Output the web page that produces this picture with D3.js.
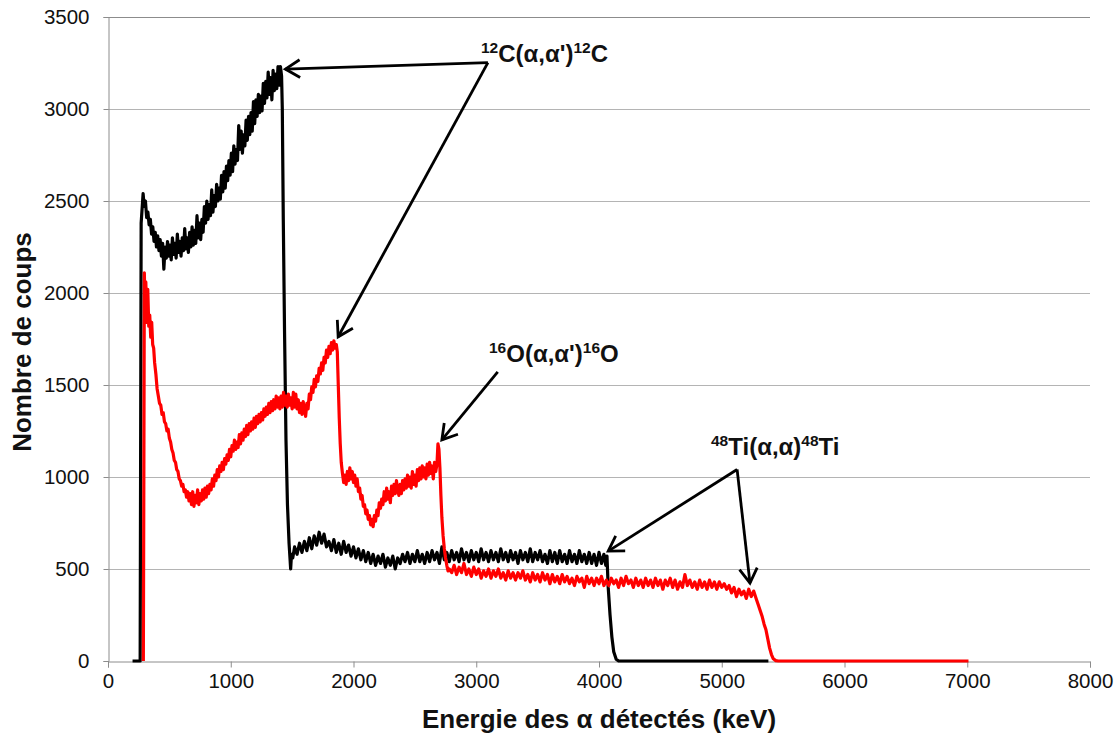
<!DOCTYPE html>
<html><head><meta charset="utf-8">
<script src="https://cdn.jsdelivr.net/npm/d3@7"></script>
<style>body{margin:0;background:#fff}svg{display:block}text{font-family:"Liberation Sans",Arial,sans-serif}</style>
</head><body>
<svg id="c" width="1120" height="735"></svg>
<script>
// ---- data (energy keV, counts) ----
const xTicks = [0,1000,2000,3000,4000,5000,6000,7000,8000];
const yTicks = [0,500,1000,1500,2000,2500,3000,3500];

const blackSeries = [
[200,0],[262,0],[266,1200],[270,2380],[278,2460],[286,2540],[295,2470],[305,2500],[315,2410],[325,2440],
[335,2370],[345,2400],[355,2320],[365,2360],[375,2280],[385,2330],[395,2250],[405,2310],[415,2230],[425,2290],
[435,2200],[445,2270],[455,2130],[465,2250],[475,2190],[485,2280],[495,2200],[505,2260],[515,2180],[525,2300],
[535,2210],[545,2270],[555,2190],[565,2320],[575,2220],[585,2280],[595,2200],[605,2300],[615,2230],[625,2350],
[635,2240],[645,2300],[655,2220],[665,2330],[675,2250],[685,2360],[695,2260],[705,2340],[715,2270],[725,2420],
[735,2300],[745,2380],[755,2290],[765,2400],[775,2330],[785,2470],[795,2380],[805,2500],[815,2400],[825,2480],
[835,2420],[845,2560],[855,2440],[865,2530],[875,2470],[885,2590],[895,2500],[905,2570],[915,2510],[925,2640],
[935,2550],[945,2660],[955,2570],[965,2690],[975,2610],[985,2720],[995,2640],[1005,2760],[1015,2660],[1025,2800],
[1035,2700],[1045,2780],[1055,2720],[1065,2910],[1075,2780],[1085,2880],[1095,2760],[1105,2860],[1115,2800],[1125,2940],
[1135,2830],[1145,2960],[1155,2860],[1165,2980],[1175,2880],[1185,3040],[1195,2920],[1205,3050],[1215,2960],[1225,3080],
[1235,2980],[1245,3070],[1255,2990],[1265,3140],[1275,3030],[1285,3150],[1295,3060],[1305,3200],[1315,3080],[1325,3170],
[1335,3050],[1345,3210],[1355,3100],[1365,3190],[1375,3110],[1385,3230],[1395,3130],[1405,3230],[1414,3180],[1420,3000],
[1428,2400],[1438,1800],[1450,1200],[1462,850],[1475,640],[1488,500],[1495,580],
[1505,560],[1520,620],[1540,580],[1560,640],[1580,590],[1600,650],[1620,600],[1640,670],[1660,610],[1680,680],
[1700,630],[1720,700],[1740,640],[1760,690],[1780,620],[1800,650],[1820,600],[1840,660],[1860,590],[1880,640],
[1900,580],[1920,650],[1940,590],[1960,630],[1980,570],[2000,620],[2020,560],[2040,610],[2060,550],[2080,600],
[2100,540],[2120,590],[2140,530],[2160,580],[2180,520],[2200,570],[2220,530],[2240,580],[2260,510],[2280,560],
[2300,520],[2320,570],[2340,500],[2360,560],[2380,530],[2400,580],[2420,540],[2440,590],[2460,530],[2480,580],
[2500,540],[2520,600],[2540,540],[2560,580],[2580,530],[2600,590],[2620,540],[2640,600],[2660,550],[2680,590],
[2700,530],[2720,620],[2740,550],[2760,590],[2780,540],[2800,600],[2820,550],[2840,590],[2860,540],[2880,610],
[2900,550],[2920,590],[2940,540],[2960,600],[2980,550],[3000,590],[3020,540],[3040,610],[3060,550],[3080,590],
[3100,540],[3120,600],[3140,550],[3160,590],[3180,540],[3200,610],[3220,550],[3240,590],[3260,540],[3280,600],
[3300,550],[3320,590],[3340,530],[3360,600],[3380,550],[3400,590],[3420,540],[3440,610],[3460,540],[3480,590],
[3500,550],[3520,600],[3540,540],[3560,580],[3580,530],[3600,600],[3620,540],[3640,590],[3660,530],[3680,600],
[3700,540],[3720,580],[3740,530],[3760,600],[3780,540],[3800,580],[3820,530],[3840,600],[3860,540],[3880,580],
[3900,530],[3920,590],[3940,530],[3960,580],[3980,520],[4000,590],[4020,530],[4040,580],[4055,520],[4065,570],
[4075,400],[4090,250],[4105,130],[4120,50],[4140,10],[4160,0],[5380,0]
];

const redSeries = [
[288,0],[292,1000],[296,2110],[302,1900],[308,2060],[316,1840],[324,2020],[332,1820],[340,1880],[348,1760],
[356,1840],[364,1720],[372,1700],[380,1620],[390,1560],[400,1480],[410,1440],[420,1400],[430,1390],[440,1340],
[450,1350],[460,1300],[470,1290],[480,1250],[490,1260],[500,1210],[510,1190],[520,1150],[530,1130],[540,1090],
[550,1080],[560,1040],[570,1030],[580,990],[590,980],[600,950],[610,960],[620,920],[630,930],[640,890],
[650,920],[660,870],[670,910],[680,850],[690,920],[700,840],[710,900],[720,860],[730,930],[740,850],
[750,910],[760,870],[770,930],[780,880],[790,940],[800,890],[810,950],[820,910],[830,960],[840,930],
[850,990],[860,950],[870,1010],[880,980],[890,1040],[900,1000],[910,1060],[920,1030],[930,1080],[940,1040],
[950,1100],[960,1070],[970,1120],[980,1090],[990,1150],[1000,1110],[1010,1170],[1020,1140],[1030,1200],[1040,1150],
[1050,1190],[1060,1160],[1070,1230],[1080,1180],[1090,1240],[1100,1200],[1110,1260],[1120,1220],[1130,1280],[1140,1230],
[1150,1290],[1160,1250],[1170,1300],[1180,1260],[1190,1320],[1200,1270],[1210,1330],[1220,1290],[1230,1340],[1240,1300],
[1250,1350],[1260,1310],[1270,1370],[1280,1330],[1290,1380],[1300,1340],[1310,1400],[1320,1350],[1330,1410],[1340,1360],
[1350,1420],[1360,1370],[1370,1440],[1380,1380],[1390,1430],[1400,1370],[1410,1440],[1420,1380],[1430,1460],[1440,1390],
[1450,1440],[1460,1380],[1470,1450],[1480,1390],[1490,1430],[1500,1370],[1510,1460],[1520,1380],[1530,1450],[1540,1370],
[1550,1420],[1560,1350],[1570,1400],[1580,1340],[1590,1410],[1600,1360],[1610,1330],[1620,1400],[1630,1370],[1640,1450],
[1650,1420],[1660,1490],[1670,1460],[1680,1530],[1690,1490],[1700,1550],[1710,1520],[1720,1590],[1730,1560],[1740,1620],
[1750,1580],[1760,1650],[1770,1620],[1780,1690],[1790,1650],[1800,1710],[1810,1670],[1820,1730],[1830,1690],[1840,1740],
[1850,1700],[1860,1720],[1868,1680],[1876,1500],[1884,1320],[1892,1180],[1900,1080],[1910,1020],[1920,970],[1930,1010],
[1940,960],[1950,1030],[1960,980],[1970,1050],[1980,990],[1990,1030],[2000,970],[2010,1010],[2020,950],[2030,990],
[2040,920],[2050,940],[2060,880],[2070,900],[2080,840],[2090,850],[2100,800],[2110,820],[2120,770],[2130,790],
[2140,740],[2150,770],[2160,730],[2170,790],[2180,760],[2190,820],[2200,790],[2210,860],[2220,830],[2230,880],
[2240,850],[2250,920],[2260,870],[2270,940],[2280,880],[2290,920],[2300,860],[2310,950],[2320,900],[2330,960],
[2340,910],[2350,980],[2360,930],[2370,900],[2380,960],[2390,910],[2400,980],[2410,930],[2420,990],[2430,940],
[2440,1010],[2450,950],[2460,1000],[2470,940],[2480,1030],[2490,960],[2500,1010],[2510,950],[2520,1040],[2530,980],
[2540,1050],[2550,990],[2560,1060],[2570,1000],[2580,1050],[2590,990],[2600,1070],[2610,1010],[2620,1080],[2630,1020],
[2640,1060],[2650,990],[2660,1080],[2670,1030],[2680,1070],[2688,1180],[2696,1150],[2704,1050],[2712,900],[2720,780],
[2730,680],[2740,610],[2750,560],[2760,520],[2770,490],[2780,500],
[2800,480],[2820,520],[2840,470],[2860,510],[2880,480],[2900,530],[2920,470],[2940,500],[2960,460],[2980,510],
[3000,470],[3020,500],[3040,450],[3060,490],[3080,460],[3100,500],[3120,450],[3140,490],[3160,460],[3180,500],
[3200,450],[3220,480],[3240,440],[3260,490],[3280,450],[3300,480],[3320,440],[3340,480],[3360,450],[3380,490],
[3400,440],[3420,470],[3440,430],[3460,480],[3480,440],[3500,470],[3520,430],[3540,480],[3560,440],[3580,470],
[3600,420],[3620,470],[3640,430],[3660,460],[3680,420],[3700,470],[3720,430],[3740,460],[3760,420],[3780,450],
[3800,410],[3820,460],[3840,430],[3860,450],[3880,400],[3900,460],[3920,420],[3940,450],[3960,410],[3980,450],
[4000,420],[4020,460],[4040,410],[4060,440],[4080,410],[4100,450],[4120,420],[4140,440],[4160,400],[4180,450],
[4200,410],[4220,460],[4240,420],[4260,440],[4280,400],[4300,450],[4320,410],[4340,440],[4360,400],[4380,450],
[4400,410],[4420,440],[4440,400],[4460,450],[4480,410],[4500,440],[4520,390],[4540,440],[4560,410],[4580,450],
[4600,400],[4620,440],[4640,390],[4660,430],[4680,400],[4700,470],[4720,410],[4740,440],[4760,400],[4780,430],
[4800,390],[4820,440],[4840,400],[4860,430],[4880,390],[4900,440],[4920,400],[4940,430],[4960,390],[4980,430],
[5000,400],[5020,420],[5040,390],[5060,410],[5080,370],[5100,400],[5120,350],[5140,390],[5160,360],[5180,380],
[5200,340],[5220,390],[5240,350],[5260,380],[5280,340],[5300,300],[5315,270],[5330,240],[5345,200],[5360,170],
[5375,120],[5390,70],[5405,35],[5420,12],[5440,2],[5460,0],[7010,0]
];

// annotation labels (superscript mass number, reaction, superscript, nucleus)
const annoC = ["12","C(α,α')","12","C"];
const annoO = ["16","O(α,α')","16","O"];
const annoTi = ["48","Ti(α,α)","48","Ti"];

// ---- chart ----
const svg = d3.select("#c");
const x = d3.scaleLinear().domain([0,8000]).range([108,1090]);
const y = d3.scaleLinear().domain([0,3500]).range([661,17]);
const FONT = "Liberation Sans, Arial, sans-serif";

// gridlines
svg.append("g").selectAll("line").data(yTicks.filter(d=>d>0)).join("line")
  .attr("x1",x(0)).attr("x2",x(8000)).attr("y1",d=>Math.round(y(d))+0.5).attr("y2",d=>Math.round(y(d))+0.5)
  .attr("stroke",d=>d===3500?"#8c8c8c":"#b4b4b4").attr("stroke-width",1);

// y axis
const yAxis = svg.append("g").attr("transform",`translate(${x(0)+0.5},0)`)
  .call(d3.axisLeft(y).tickValues(yTicks).tickFormat(d3.format("d")).tickSize(5).tickPadding(14));
yAxis.select(".domain").attr("stroke","#8c8c8c");
yAxis.selectAll(".tick line").attr("stroke","#8c8c8c");
yAxis.selectAll(".tick text").attr("font-size",20.5).attr("fill","#111").attr("font-family",FONT);

// x axis
const xAxis = svg.append("g").attr("transform",`translate(0,${y(0)+0.5})`)
  .call(d3.axisBottom(x).tickValues(xTicks).tickFormat(d3.format("d")).tickSize(6).tickPadding(6));
xAxis.select(".domain").attr("stroke","#8c8c8c");
xAxis.selectAll(".tick line").attr("stroke","#8c8c8c");
xAxis.selectAll(".tick text").attr("font-size",20.5).attr("fill","#111").attr("font-family",FONT);

// series
const line = d3.line().x(d=>x(d[0])).y(d=>y(d[1]));
svg.append("path").datum(blackSeries).attr("d",line).attr("fill","none")
  .attr("stroke","#000").attr("stroke-width",3.2).attr("stroke-linejoin","round");
svg.append("path").datum(redSeries).attr("d",line).attr("fill","none")
  .attr("stroke","#ff0000").attr("stroke-width",3.2).attr("stroke-linejoin","round");

// axis titles
svg.append("text").attr("x",599).attr("y",728).attr("text-anchor","middle")
  .attr("font-size",26).attr("font-weight","bold").attr("fill","#111").text("Energie des α détectés (keV)");
svg.append("text").attr("transform","translate(31,342) rotate(-90)").attr("text-anchor","middle")
  .attr("font-size",26).attr("font-weight","bold").attr("fill","#111").text("Nombre de coups");

// annotation labels
function label(a, px, py){
  const t = svg.append("text").attr("x",px).attr("y",py).attr("font-size",24).attr("font-weight","bold").attr("fill","#111");
  t.append("tspan").attr("font-size",15.5).attr("dy",-9).text(a[0]);
  t.append("tspan").attr("dy",9).text(a[1]);
  t.append("tspan").attr("font-size",15.5).attr("dy",-9).text(a[2]);
  t.append("tspan").attr("dy",9).text(a[3]);
}
label(annoC, 481, 62);
label(annoO, 489, 362);
label(annoTi, 711, 455);

// arrows: corner point and tips in data coordinates
function arrow(from, to){
  const x1=x(from[0]), y1=y(from[1]), x2=x(to[0]), y2=y(to[1]);
  svg.append("line").attr("x1",x1).attr("y1",y1).attr("x2",x2).attr("y2",y2)
    .attr("stroke","#000").attr("stroke-width",2.8);
  const ang=Math.atan2(y2-y1,x2-x1), L=17, w=0.55;
  const p=[[x2-L*Math.cos(ang-w),y2-L*Math.sin(ang-w)],[x2,y2],[x2-L*Math.cos(ang+w),y2-L*Math.sin(ang+w)]];
  svg.append("path").attr("d",d3.line()(p)).attr("fill","none").attr("stroke","#000")
    .attr("stroke-width",2.8).attr("stroke-linejoin","miter");
}
const cCorner=[3095,3252], oStart=[3175,1571], tiCorner=[5125,1041];
arrow(cCorner,[1445,3217]);
arrow(cCorner,[1875,1762]);
arrow(oStart,[2720,1202]);
arrow(tiCorner,[4075,597]);
arrow(tiCorner,[5230,424]);
</script>
</body></html>
